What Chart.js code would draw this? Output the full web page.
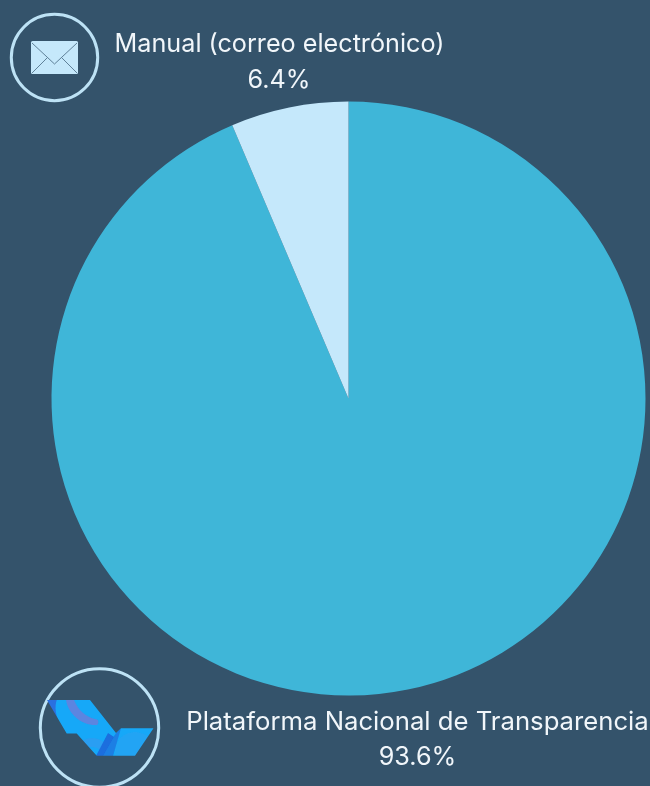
<!DOCTYPE html>
<html>
<head>
<meta charset="utf-8">
<style>
  html, body { margin: 0; padding: 0; background: #34536b; overflow: hidden; }
  #wrap { position: relative; width: 650px; height: 786px; overflow: hidden; }
  #myChart { position: absolute; left: 0; top: 0; }
  #icons { position: absolute; left: 0; top: 0; }
  .label { position: absolute; color: #f1f6fa; font-family: Inter, "Noto Sans", sans-serif; font-size: 25.2px; text-align: center; white-space: nowrap; transform: translateX(-50%); line-height: 36px; }
</style>
</head>
<body>
<div id="wrap">
  <canvas id="myChart" width="650" height="786"></canvas>
  <svg id="icons" width="650" height="786">
    <defs>
      <clipPath id="logoClip">
        <path d="M47 700 L90 700 L116 733 L121 728.3 L153.5 728.3 L135 755.7 L96.7 755.7 L76.7 733.5 L66.7 733.5 Z"/>
      </clipPath>
      <filter id="soft"><feGaussianBlur stdDeviation="0.5"/></filter>
    </defs>
    <!-- mail icon -->
    <circle cx="54.5" cy="57.5" r="43.2" fill="none" stroke="#bde2f5" stroke-width="3"/>
    <rect x="31" y="41" width="47" height="33" rx="1.5" fill="#c5e8fb"/>
    <path d="M32 43 L54.5 64 L77 43 M32 73 L47 58 M77 73 L62 58" fill="none" stroke="#5f8199" stroke-width="1"/>
    <!-- PNT logo -->
    <circle cx="99.5" cy="728" r="59.2" fill="none" stroke="#bde2f5" stroke-width="3"/>
    <g clip-path="url(#logoClip)" filter="url(#soft)">
      <rect x="40" y="695" width="120" height="65" fill="#14a8f8"/>
      <path d="M46 699 L57 699 C54 708 56 716 60 724 L50 712 Z" fill="#2b6fe0"/>
      <path d="M66 700 C68 714 82 726 97 725 C100 722 98 719 95 719 C86 717 78 710 74 700 Z" fill="#5b85e0"/>
      <circle cx="92" cy="756" r="18" fill="#2a9ef2"/>
      <circle cx="92" cy="758" r="11" fill="#14a8f8"/>
      <circle cx="135" cy="752" r="20" fill="#24a4f4"/>
      <path d="M101.7 756 L116 733 L121 728.3 L113 756 Z" fill="#1d7fe4"/>
      <path d="M108 733 L96 756 L103 756 L114 737 Z" fill="#1a6ede"/>
    </g>
  </svg>
  <div class="label" style="left:279.5px;top:25px">Manual (correo electrónico)</div>
  <div class="label" style="left:279px;top:61px">6.4%</div>
  <div class="label" style="left:417.5px;top:703px;font-size:25.7px">Plataforma Nacional de Transparencia</div>
  <div class="label" style="left:417.5px;top:738px">93.6%</div>
</div>
<script src="https://cdn.jsdelivr.net/npm/chart.js@4"></script>
<script>
// Values
var categories = ["Plataforma Nacional de Transparencia", "Manual (correo electrónico)"];
var percentValues = [93.6, 6.4];
var sliceColors = ["#3fb6d8", "#c5e8fb"];

var ctx = document.getElementById("myChart").getContext("2d");
var pieChart = new Chart(ctx, {
  type: "pie",
  data: {
    labels: categories,
    datasets: [{
      data: percentValues,
      backgroundColor: sliceColors,
      borderWidth: 0
    }]
  },
  options: {
    responsive: false,
    animation: false,
    layout: { padding: { left: 51.5, right: 4.5, top: 101, bottom: 90 } },
    plugins: {
      legend: { display: false },
      tooltip: { enabled: false }
    }
  }
});
</script>
</body>
</html>
